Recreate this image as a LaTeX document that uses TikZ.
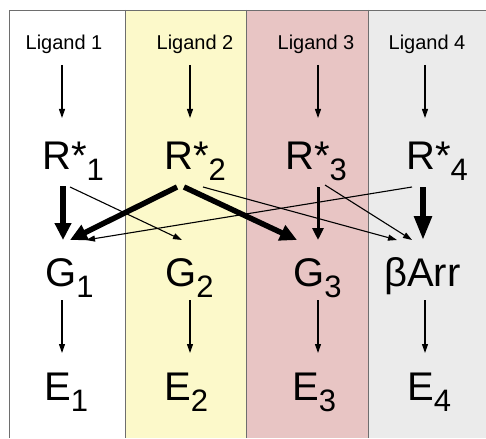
\documentclass[tikz,border=0pt]{standalone}
\usepackage{fontspec}
\setmainfont{Liberation Sans}
\usetikzlibrary{arrows.meta}
\definecolor{colyellow}{HTML}{FCF9CA}
\definecolor{colpink}{HTML}{E8C5C4}
\definecolor{colgray}{HTML}{EBEBEB}
\definecolor{framegray}{HTML}{6E6E6E}
\newcommand{\bigf}{\fontsize{40}{40}\selectfont}
\newcommand{\subf}{\fontsize{31}{31}\selectfont}
\newcommand{\lbl}[2]{{\bigf #1}\raisebox{-11pt}{\subf #2}}
\tikzset{
  lig/.style={font=\fontsize{20}{20}\selectfont, anchor=base, inner sep=0pt},
  big/.style={anchor=base west, inner sep=0pt},
  thin/.style={line width=1.1pt, -{Triangle[length=9pt,width=6pt]}},
  medium/.style={line width=3pt, -{Triangle[length=12pt,width=11pt]}},
  heavy/.style={line width=5.5pt, -{Triangle[length=17pt,width=16pt]}},
  heavylong/.style={line width=5.5pt, -{Triangle[length=24pt,width=17pt]}},
  frameline/.style={draw=framegray, line width=0.9pt}
}
\begin{document}
\begin{tikzpicture}[x=1pt,y=-1pt]
\useasboundingbox (0,0) rectangle (486,438);
% columns
\fill[white] (9,10) rectangle (125,438);
\fill[colyellow] (125,10) rectangle (246,438);
\fill[colpink] (246,10) rectangle (368,438);
\fill[colgray] (368,10) rectangle (486,438);
\draw[frameline] (9,438) -- (9,10) -- (486,10);
\draw[frameline] (125,10) -- (125,438);
\draw[frameline] (246,10) -- (246,438);
\draw[frameline] (368,10) -- (368,438);
% ligands
\node[lig] (L1) at (64,50) {Ligand 1};
\node[lig] (L2) at (195,50) {Ligand 2};
\node[lig] (L3) at (316,50) {Ligand 3};
\node[lig] (L4) at (427,50) {Ligand 4};
% receptors
\node[big] (R1) at (42,170) {\lbl{R*}{1}};
\node[big] (R2) at (164,170) {\lbl{R*}{2}};
\node[big] (R3) at (285,170) {\lbl{R*}{3}};
\node[big] (R4) at (406,170) {\lbl{R*}{4}};
% transducers
\node[big] (G1) at (45,286) {\lbl{G}{1}};
\node[big] (G2) at (165,286) {\lbl{G}{2}};
\node[big] (G3) at (293,286) {\lbl{G}{3}};
\node[big] (BA) at (384,286) {{\bigf βArr}};
% effectors
\node[big] (E1) at (44,400) {\lbl{E}{1}};
\node[big] (E2) at (164,400) {\lbl{E}{2}};
\node[big] (E3) at (292,400) {\lbl{E}{3}};
\node[big] (E4) at (407,400) {\lbl{E}{4}};
% ports
\coordinate (L1s) at (62,65);  \coordinate (R1n) at (62,118);
\coordinate (L2s) at (190,65); \coordinate (R2n) at (190,118);
\coordinate (L3s) at (318,65); \coordinate (R3n) at (318,118);
\coordinate (L4s) at (425,65); \coordinate (R4n) at (425,118);
\coordinate (G1s) at (62,300); \coordinate (E1n) at (62,353);
\coordinate (G2s) at (190,300); \coordinate (E2n) at (190,353);
\coordinate (G3s) at (318,300); \coordinate (E3n) at (318,353);
\coordinate (BAs) at (425,300); \coordinate (E4n) at (425,353);
% ligand -> receptor
\draw[thin] (L1s) -- (R1n);
\draw[thin] (L2s) -- (R2n);
\draw[thin] (L3s) -- (R3n);
\draw[thin] (L4s) -- (R4n);
% G -> E
\draw[thin] (G1s) -- (E1n);
\draw[thin] (G2s) -- (E2n);
\draw[thin] (G3s) -- (E3n);
\draw[thin] (BAs) -- (E4n);
% receptor -> transducer
\coordinate (R1a) at (63,186);  \coordinate (G1a) at (63,240);
\coordinate (R1b) at (70,187);  \coordinate (G2a) at (182,240);
\coordinate (R2a) at (177,187); \coordinate (G1b) at (70,240);
\coordinate (R2b) at (184,187); \coordinate (G3a) at (297,240);
\coordinate (R2c) at (203,187); \coordinate (BAa) at (397,240);
\coordinate (R4a) at (412,187); \coordinate (G1c) at (86,240);
\coordinate (R3a) at (318,187); \coordinate (G3b) at (318,240);
\coordinate (R3b) at (325,185); \coordinate (BAb) at (412,240);
\coordinate (R4b) at (423,187); \coordinate (BAc) at (423,240);
\draw[thin] (R1b) -- (G2a);
\draw[thin] (R2c) -- (BAa);
\draw[thin] (R4a) -- (G1c);
\draw[thin] (R3b) -- (BAb);
\draw[medium] (R3a) -- (G3b);
\draw[heavy] (R1a) -- (G1a);
\draw[heavy] (R2a) -- (G1b);
\draw[heavy] (R2b) -- (G3a);
\draw[heavylong] (R4b) -- (BAc);
\end{tikzpicture}
\end{document}
